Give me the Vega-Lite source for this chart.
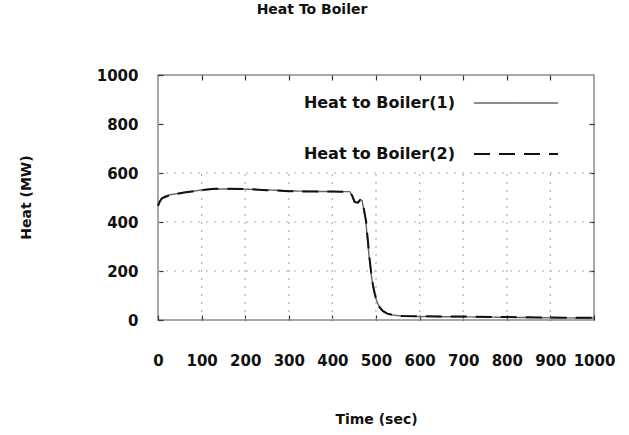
{
  "$schema": "https://vega.github.io/schema/vega-lite/v6.json",
  "width": 436,
  "height": 245,
  "autosize": {"type": "none"},
  "padding": {"left": 158, "top": 75, "right": 35, "bottom": 115},
  "background": "white",
  "config": {
    "font": "DejaVu Sans",
    "view": {"stroke": "#8a8a8a", "strokeWidth": 1.5},
    "axis": {"labelFont": "DejaVu Sans", "labelFontWeight": "bold", "labelFontSize": 15, "labelColor": "#111", "titleFont": "DejaVu Sans", "titleFontWeight": "bold", "titleFontSize": 14, "titleColor": "#111", "domain": false, "grid": false, "tickColor": "#333", "tickSize": -5, "tickWidth": 1.2, "labelOverlap": false, "labelBound": false, "labelFlush": false, "format": "d"}
  },
  "title": {"text": "Heat To Boiler", "font": "DejaVu Sans", "fontSize": 14, "fontWeight": "bold", "color": "#111", "anchor": "middle", "offset": 43, "dx": -64},
  "layer": [
    {
      "data": {"values": [{"t": 100}, {"t": 200}, {"t": 300}, {"t": 400}, {"t": 500}, {"t": 600}, {"t": 700}, {"t": 800}, {"t": 900}]},
      "mark": {"type": "rule", "color": "#b0b0b0", "strokeDash": [2, 6], "strokeWidth": 1.2},
      "encoding": {
        "x": {"field": "t", "type": "quantitative", "scale": {"domain": [0, 1000], "nice": false}, "axis": {"orient": "top", "labels": false, "title": null, "values": [100, 200, 300, 400, 500, 600, 700, 800, 900]}},
        "y": {"datum": 0, "type": "quantitative", "axis": null},
        "y2": {"datum": 600}
      }
    },
    {
      "data": {"values": [{"v": 200}, {"v": 400}, {"v": 600}]},
      "mark": {"type": "rule", "color": "#b0b0b0", "strokeDash": [2, 6], "strokeWidth": 1.2},
      "encoding": {
        "y": {"field": "v", "type": "quantitative", "scale": {"domain": [0, 1000], "nice": false}, "axis": {"orient": "right", "labels": false, "title": null, "values": [200, 400, 600, 800]}},
        "x": {"datum": 0, "type": "quantitative", "axis": null},
        "x2": {"datum": 1000}
      }
    },
    {
      "data": {"values": [
        {"series": "Heat to Boiler(1)", "t": 0, "v": 470},
        {"series": "Heat to Boiler(1)", "t": 3, "v": 482},
        {"series": "Heat to Boiler(1)", "t": 8, "v": 496},
        {"series": "Heat to Boiler(1)", "t": 15, "v": 505},
        {"series": "Heat to Boiler(1)", "t": 30, "v": 512},
        {"series": "Heat to Boiler(1)", "t": 50, "v": 518},
        {"series": "Heat to Boiler(1)", "t": 80, "v": 525},
        {"series": "Heat to Boiler(1)", "t": 100, "v": 531},
        {"series": "Heat to Boiler(1)", "t": 130, "v": 535},
        {"series": "Heat to Boiler(1)", "t": 200, "v": 534},
        {"series": "Heat to Boiler(1)", "t": 250, "v": 531},
        {"series": "Heat to Boiler(1)", "t": 300, "v": 527},
        {"series": "Heat to Boiler(1)", "t": 350, "v": 525},
        {"series": "Heat to Boiler(1)", "t": 400, "v": 524},
        {"series": "Heat to Boiler(1)", "t": 440, "v": 524},
        {"series": "Heat to Boiler(1)", "t": 445, "v": 508},
        {"series": "Heat to Boiler(1)", "t": 450, "v": 483},
        {"series": "Heat to Boiler(1)", "t": 458, "v": 478},
        {"series": "Heat to Boiler(1)", "t": 463, "v": 491},
        {"series": "Heat to Boiler(1)", "t": 468, "v": 488},
        {"series": "Heat to Boiler(1)", "t": 472, "v": 450},
        {"series": "Heat to Boiler(1)", "t": 476, "v": 415},
        {"series": "Heat to Boiler(1)", "t": 480, "v": 340},
        {"series": "Heat to Boiler(1)", "t": 484, "v": 262},
        {"series": "Heat to Boiler(1)", "t": 488, "v": 200},
        {"series": "Heat to Boiler(1)", "t": 492, "v": 150},
        {"series": "Heat to Boiler(1)", "t": 497, "v": 105},
        {"series": "Heat to Boiler(1)", "t": 502, "v": 75},
        {"series": "Heat to Boiler(1)", "t": 508, "v": 52},
        {"series": "Heat to Boiler(1)", "t": 515, "v": 38},
        {"series": "Heat to Boiler(1)", "t": 525, "v": 27},
        {"series": "Heat to Boiler(1)", "t": 540, "v": 20},
        {"series": "Heat to Boiler(1)", "t": 560, "v": 16},
        {"series": "Heat to Boiler(1)", "t": 600, "v": 14},
        {"series": "Heat to Boiler(1)", "t": 700, "v": 13},
        {"series": "Heat to Boiler(1)", "t": 800, "v": 11},
        {"series": "Heat to Boiler(1)", "t": 900, "v": 9},
        {"series": "Heat to Boiler(1)", "t": 1000, "v": 8},
        {"series": "Heat to Boiler(2)", "t": 0, "v": 466},
        {"series": "Heat to Boiler(2)", "t": 5, "v": 486},
        {"series": "Heat to Boiler(2)", "t": 10, "v": 498},
        {"series": "Heat to Boiler(2)", "t": 30, "v": 511},
        {"series": "Heat to Boiler(2)", "t": 60, "v": 520},
        {"series": "Heat to Boiler(2)", "t": 100, "v": 530},
        {"series": "Heat to Boiler(2)", "t": 130, "v": 536},
        {"series": "Heat to Boiler(2)", "t": 200, "v": 535},
        {"series": "Heat to Boiler(2)", "t": 250, "v": 530},
        {"series": "Heat to Boiler(2)", "t": 300, "v": 526},
        {"series": "Heat to Boiler(2)", "t": 350, "v": 524},
        {"series": "Heat to Boiler(2)", "t": 400, "v": 524},
        {"series": "Heat to Boiler(2)", "t": 440, "v": 523},
        {"series": "Heat to Boiler(2)", "t": 446, "v": 505},
        {"series": "Heat to Boiler(2)", "t": 451, "v": 482},
        {"series": "Heat to Boiler(2)", "t": 458, "v": 479},
        {"series": "Heat to Boiler(2)", "t": 464, "v": 490},
        {"series": "Heat to Boiler(2)", "t": 469, "v": 486},
        {"series": "Heat to Boiler(2)", "t": 473, "v": 445},
        {"series": "Heat to Boiler(2)", "t": 477, "v": 405},
        {"series": "Heat to Boiler(2)", "t": 481, "v": 330},
        {"series": "Heat to Boiler(2)", "t": 485, "v": 255},
        {"series": "Heat to Boiler(2)", "t": 489, "v": 192},
        {"series": "Heat to Boiler(2)", "t": 493, "v": 143},
        {"series": "Heat to Boiler(2)", "t": 498, "v": 100},
        {"series": "Heat to Boiler(2)", "t": 503, "v": 72},
        {"series": "Heat to Boiler(2)", "t": 509, "v": 50},
        {"series": "Heat to Boiler(2)", "t": 516, "v": 36},
        {"series": "Heat to Boiler(2)", "t": 526, "v": 26},
        {"series": "Heat to Boiler(2)", "t": 542, "v": 19},
        {"series": "Heat to Boiler(2)", "t": 562, "v": 16},
        {"series": "Heat to Boiler(2)", "t": 600, "v": 15},
        {"series": "Heat to Boiler(2)", "t": 700, "v": 14},
        {"series": "Heat to Boiler(2)", "t": 800, "v": 12},
        {"series": "Heat to Boiler(2)", "t": 900, "v": 10},
        {"series": "Heat to Boiler(2)", "t": 1000, "v": 9}
      ]},
      "mark": {"type": "line"},
      "encoding": {
        "x": {"field": "t", "type": "quantitative", "scale": {"domain": [0, 1000], "nice": false}, "axis": {"orient": "bottom", "title": "Time (sec)", "values": [0, 100, 200, 300, 400, 500, 600, 700, 800, 900, 1000], "labelPadding": 38, "titleY": 99, "titleBaseline": "middle"}},
        "y": {"field": "v", "type": "quantitative", "scale": {"domain": [0, 1000], "nice": false}, "axis": {"orient": "left", "title": "Heat (MW)", "values": [0, 200, 400, 600, 800, 1000], "labelPadding": 25, "titleX": -132, "titleY": 122, "titleBaseline": "middle"}},
        "color": {"field": "series", "type": "nominal", "scale": {"domain": ["Heat to Boiler(1)", "Heat to Boiler(2)"], "range": ["#666666", "#111111"]},
          "legend": {"title": null, "orient": "none", "legendX": 315, "legendY": -15, "symbolType": "stroke", "symbolSize": 7056, "symbolFillColor": "transparent", "symbolOpacity": 1, "labelAlign": "right", "labelOffset": -104, "labelFont": "DejaVu Sans", "labelFontWeight": "bold", "labelFontSize": 16, "labelColor": "#111", "labelLimit": 300, "rowPadding": 0}},
        "strokeWidth": {"field": "series", "type": "nominal", "scale": {"domain": ["Heat to Boiler(1)", "Heat to Boiler(2)"], "range": [1.4, 2]},
          "legend": {"title": null, "orient": "none", "legendX": 315, "legendY": -15, "symbolType": "stroke", "symbolSize": 7056, "symbolFillColor": "transparent", "symbolOpacity": 1, "labelAlign": "right", "labelOffset": -104, "labelFont": "DejaVu Sans", "labelFontWeight": "bold", "labelFontSize": 16, "labelColor": "#111", "labelLimit": 300, "rowPadding": 0}},
        "strokeDash": {"field": "series", "type": "nominal", "scale": {"domain": ["Heat to Boiler(1)", "Heat to Boiler(2)"], "range": [[1, 0], [16, 9]]},
          "legend": {"title": null, "orient": "none", "legendX": 315, "legendY": -15, "symbolType": "stroke", "symbolSize": 7056, "symbolFillColor": "transparent", "symbolOpacity": 1, "labelAlign": "right", "labelOffset": -104, "labelFont": "DejaVu Sans", "labelFontWeight": "bold", "labelFontSize": 16, "labelColor": "#111", "labelLimit": 300, "rowPadding": 0}
        }
      }
    }
  ],
  "resolve": {"axis": {"x": "independent", "y": "independent"}}
}
